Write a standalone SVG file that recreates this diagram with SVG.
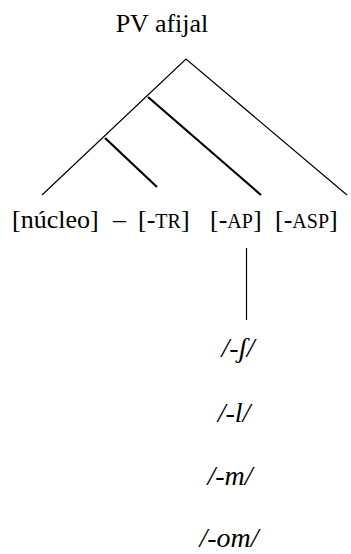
<svg xmlns="http://www.w3.org/2000/svg" width="351" height="554" viewBox="0 0 351 554">
<style>
text{font-family:"Liberation Serif","Times New Roman",serif;fill:#000}
.t{font-size:26px}
.r{font-size:26px}
.sc{font-size:20px}
.i{font-size:28px;font-style:italic}
.thin{stroke:#000;stroke-width:1.2;fill:none}
.thick{stroke:#000;stroke-width:2.2;fill:none}
</style>
<rect width="351" height="554" fill="#fff"/>
<g id="root"><text class="t" x="162" y="32" text-anchor="middle">PV afijal</text></g>
<g id="connectors">
<polyline class="thin" points="42,195 186,59 347,195"/>
<line class="thick" x1="148" y1="97" x2="261" y2="195"/>
<line class="thick" x1="105" y1="138" x2="157" y2="187"/>
<line class="thin" x1="246.5" y1="248" x2="246.5" y2="320"/>
</g>
<g id="nucleo"><text class="r" x="12" y="228">[núcleo]</text></g>
<g id="dash"><text class="r" x="113" y="228">–</text></g>
<g id="tr"><text class="r" x="138" y="228">[-<tspan class="sc">TR</tspan>]</text></g>
<g id="ap"><text class="r" x="210" y="228">[-<tspan class="sc">AP</tspan>]</text></g>
<g id="asp"><text class="r" x="275" y="228">[-<tspan class="sc">ASP</tspan>]</text></g>
<g id="sh"><text class="i" x="238" y="357" text-anchor="middle">/-ʃ/</text></g>
<g id="l"><text class="i" x="234" y="422" text-anchor="middle">/-l/</text></g>
<g id="m"><text class="i" x="230" y="485" text-anchor="middle">/-m/</text></g>
<g id="om"><text class="i" x="229" y="547" text-anchor="middle">/-om/</text></g>
</svg>
